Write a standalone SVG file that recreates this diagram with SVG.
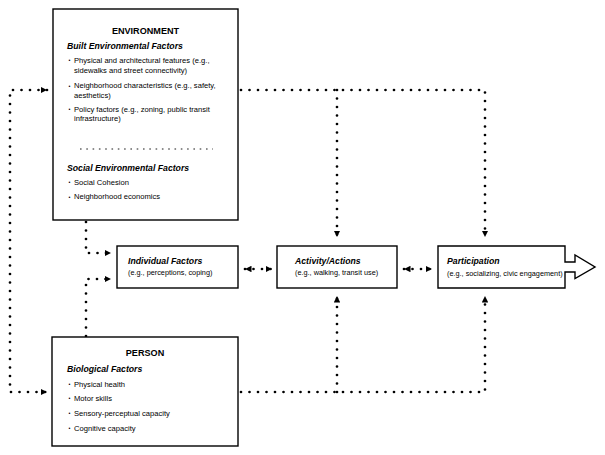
<svg xmlns="http://www.w3.org/2000/svg" width="605" height="455" viewBox="0 0 605 455">
<defs>
<style>
.box{fill:#fff;stroke:#000;stroke-width:1.4}
.dot{fill:none;stroke:#000;stroke-width:2.7;stroke-linecap:round;stroke-dasharray:0 8.5}
.sep{fill:none;stroke:#000;stroke-width:0.9;stroke-dasharray:1.6 4.7}
text{font-family:"Liberation Sans",Arial,sans-serif;fill:#000}
.title{font-size:9.1px;font-weight:bold;text-anchor:middle}
.head{font-size:8.7px;font-weight:bold;font-style:italic}
.body{font-size:7.6px}
.sub{font-size:7.3px}
.bul{font-size:5.5px}
</style>
<marker id="ah" viewBox="0 0 6 6" refX="6" refY="3" markerWidth="6.5" markerHeight="6.5" markerUnits="userSpaceOnUse" orient="auto-start-reverse">
<path d="M0,0 L6,3 L0,6 z" fill="#000"/>
</marker>
</defs>

<g id="connectors">
<path class="dot" d="M47,90 H10 V392 H47" marker-start="url(#ah)" marker-end="url(#ah)"/>
<path class="dot" d="M241,90 H485 V237" marker-end="url(#ah)"/>
<path class="dot" d="M337,90 V237" marker-end="url(#ah)"/>
<path class="dot" d="M241,392 H485 V296" marker-end="url(#ah)"/>
<path class="dot" d="M337,392 V296" marker-end="url(#ah)"/>
<path class="dot" d="M86,222 V253 H111" marker-end="url(#ah)"/>
<path class="dot" d="M86,336 V279 H111" marker-end="url(#ah)"/>
<path class="dot" d="M245,269 H257.5 H272" marker-start="url(#ah)" marker-end="url(#ah)"/>
<path class="dot" d="M404,269 H432" marker-start="url(#ah)" marker-end="url(#ah)"/>
</g>

<g id="environment">
<rect class="box" x="53" y="9" width="185" height="211"/>
<text class="title" x="145.5" y="34">ENVIRONMENT</text>
<text class="head" x="67" y="49">Built Environmental  Factors</text>
<text class="bul" x="68.5" y="62">•</text>
<text class="body" x="74" y="63">Physical and architectural features (e.g.,</text>
<text class="body" x="74" y="72.5">sidewalks and street connectivity)</text>
<text class="bul" x="68.5" y="87.5">•</text>
<text class="body" x="74" y="88.3">Neighborhood characteristics (e.g., safety,</text>
<text class="body" x="74" y="97.5">aesthetics)</text>
<text class="bul" x="68.5" y="111">•</text>
<text class="body" x="74" y="111.8">Policy factors (e.g., zoning, public transit</text>
<text class="body" x="74" y="121">infrastructure)</text>
<path class="sep" d="M80,149 H213"/>
<text class="head" x="67" y="170.5">Social Environmental Factors</text>
<text class="bul" x="68.5" y="184.2">•</text>
<text class="body" x="74" y="185">Social Cohesion</text>
<text class="bul" x="68.5" y="198.5">•</text>
<text class="body" x="74" y="199.3">Neighborhood economics</text>
</g>

<g id="person">
<rect class="box" x="52" y="337" width="186" height="109"/>
<text class="title" x="145" y="355.5">PERSON</text>
<text class="head" x="67" y="372">Biological Factors</text>
<text class="bul" x="68.5" y="386">•</text>
<text class="body" x="74" y="386.7">Physical health</text>
<text class="bul" x="68.5" y="400.3">•</text>
<text class="body" x="74" y="401">Motor skills</text>
<text class="bul" x="68.5" y="415.3">•</text>
<text class="body" x="74" y="416">Sensory-perceptual capacity</text>
<text class="bul" x="68.5" y="430">•</text>
<text class="body" x="74" y="430.7">Cognitive capacity</text>
</g>

<g id="individual">
<rect class="box" x="117" y="246" width="121" height="42"/>
<text class="head" x="128" y="264">Individual Factors</text>
<text class="sub" x="128" y="275">(e.g., perceptions, coping)</text>
</g>

<g id="activity">
<rect class="box" x="277" y="246" width="120" height="42"/>
<text class="head" x="295" y="264">Activity/Actions</text>
<text class="sub" x="295" y="275">(e.g., walking, transit use)</text>
</g>

<g id="participation">
<path class="box" d="M438,246 H565 V262 H575 V255 L595,267 L575,278.5 V272 H565 V288 H438 Z"/>
<text class="head" x="447" y="264">Participation</text>
<text class="sub" x="447" y="275.5">(e.g., socializing, civic engagement)</text>
</g>
</svg>
